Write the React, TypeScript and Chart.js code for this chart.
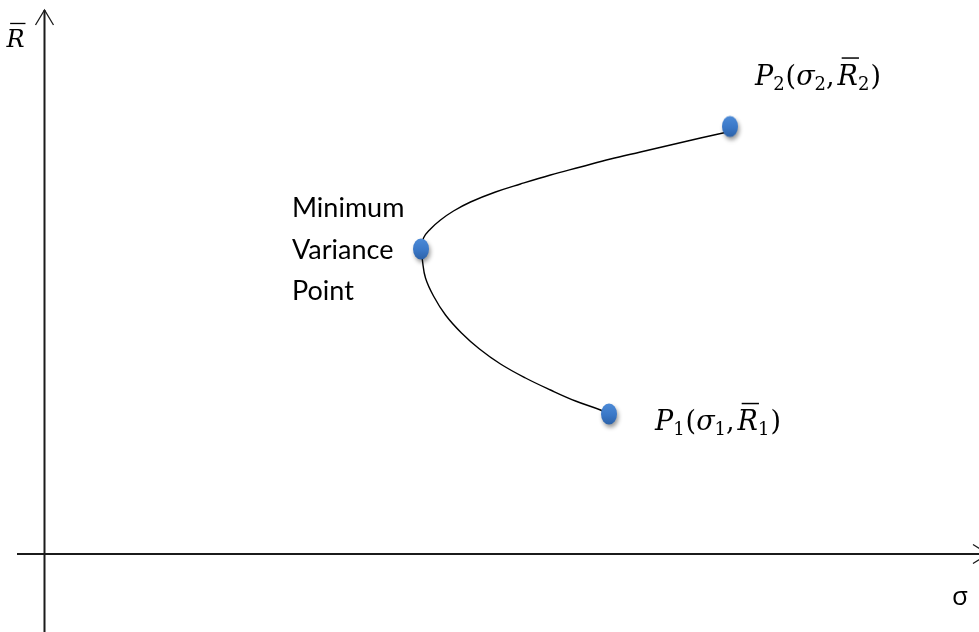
import { useEffect, useRef } from "react";
import { Chart, registerables } from "chart.js";

Chart.register(...registerables);

// Efficient frontier of a two-asset portfolio: risk σ (x) against expected return R̄ (y).
// Upper branch runs from the minimum variance point up to P2.
const upperSigma = [3.77, 3.79, 3.86, 3.96, 4.09, 4.26, 4.51, 4.76, 5.06, 5.36, 5.66, 5.96, 6.26, 6.56, 6.83];
const upperReturn = [3.05, 3.16, 3.25, 3.34, 3.43, 3.52, 3.62, 3.7, 3.79, 3.87, 3.95, 4.02, 4.09, 4.16, 4.22];
// Lower branch runs from P1 up to the minimum variance point.
const lowerSigma = [5.61, 5.56, 5.31, 5.06, 4.81, 4.56, 4.35, 4.17, 4.01, 3.89, 3.81, 3.78];
const lowerReturn = [1.41, 1.44, 1.53, 1.64, 1.76, 1.9, 2.05, 2.21, 2.39, 2.58, 2.76, 2.93];

// Marked portfolios: P1, minimum variance point, P2
const portfolioSigma = [5.645, 3.765, 6.855];
const portfolioReturn = [1.4, 3.05, 4.275];

// Visible window and axis extents (data units)
const X_MIN = -0.445;
const X_MAX = 9.345;
const Y_MIN = -0.78;
const Y_MAX = 5.54;
const X_AXIS_START = -0.275;
const X_AXIS_TIP = 9.435;
const Y_AXIS_TIP = 5.44;

const MATH_FONT = '"DejaVu Serif", "Liberation Serif", serif';
const TEXT_FONT = 'Lato, "Open Sans", sans-serif';

type Seg = { t: string; italic?: boolean; sub?: boolean; bar?: boolean; gap?: number };

const p1Label: Seg[] = [
  { t: "P", italic: true },
  { t: "1", sub: true, gap: 1 },
  { t: "(" },
  { t: "σ", italic: true },
  { t: "1", sub: true },
  { t: ",", gap: 3 },
  { t: "R", italic: true, bar: true },
  { t: "1", sub: true, gap: 1 },
  { t: ")" },
];
const p2Label: Seg[] = [
  { t: "P", italic: true },
  { t: "2", sub: true, gap: 1 },
  { t: "(" },
  { t: "σ", italic: true },
  { t: "2", sub: true },
  { t: ",", gap: 3 },
  { t: "R", italic: true, bar: true },
  { t: "2", sub: true, gap: 1 },
  { t: ")" },
];
const mvpLines = ["Minimum", "Variance", "Point"];

function drawMath(ctx: CanvasRenderingContext2D, segs: Seg[], x: number, y: number, size: number) {
  const subSize = Math.round(size * 0.68);
  let cx = x;
  ctx.fillStyle = "#000";
  ctx.textBaseline = "alphabetic";
  ctx.textAlign = "left";
  for (const s of segs) {
    const fs = s.sub ? subSize : size;
    ctx.font = `${s.italic ? "italic " : ""}${fs}px ${MATH_FONT}`;
    const yy = s.sub ? y + size * 0.19 : y;
    ctx.fillText(s.t, cx, yy);
    const w = ctx.measureText(s.t).width;
    if (s.bar) {
      const top = yy - fs * 0.98;
      ctx.save();
      ctx.strokeStyle = "#000";
      ctx.lineWidth = Math.max(1, fs * 0.055);
      ctx.beginPath();
      ctx.moveTo(cx + w * 0.2, top);
      ctx.lineTo(cx + w * 1.05, top);
      ctx.stroke();
      ctx.restore();
    }
    cx += w + (s.gap ?? 0);
  }
}

function makeMarker(): HTMLCanvasElement {
  const c = document.createElement("canvas");
  c.width = 30;
  c.height = 36;
  const g = c.getContext("2d")!;
  g.shadowColor = "rgba(0,0,0,0.4)";
  g.shadowBlur = 4;
  g.shadowOffsetX = 1.5;
  g.shadowOffsetY = 3;
  const grad = g.createLinearGradient(0, 8, 0, 28);
  grad.addColorStop(0, "#4b89d6");
  grad.addColorStop(0.55, "#3b78c7");
  grad.addColorStop(1, "#2d63aa");
  g.fillStyle = grad;
  g.beginPath();
  g.ellipse(15, 18, 8, 10.5, 0, 0, Math.PI * 2);
  g.fill();
  return c;
}

const axesPlugin = {
  id: "arrowAxes",
  beforeDatasetsDraw(chart: any) {
    const { ctx, chartArea } = chart;
    const xs = chart.scales.x;
    const ys = chart.scales.y;
    const ox = xs.getPixelForValue(0);
    const oy = ys.getPixelForValue(0);
    const yTip = ys.getPixelForValue(Y_AXIS_TIP);
    const xTip = xs.getPixelForValue(X_AXIS_TIP);
    ctx.save();
    ctx.strokeStyle = "#1b1b1b";
    ctx.lineWidth = 2;
    ctx.beginPath();
    ctx.moveTo(ox, chartArea.bottom);
    ctx.lineTo(ox, yTip);
    ctx.moveTo(xs.getPixelForValue(X_AXIS_START), oy);
    ctx.lineTo(xTip, oy);
    ctx.stroke();
    ctx.lineWidth = 1.3;
    ctx.beginPath();
    ctx.moveTo(ox - 9, yTip + 15);
    ctx.lineTo(ox, yTip);
    ctx.lineTo(ox + 9, yTip + 15);
    ctx.moveTo(xTip - 15, oy - 9.5);
    ctx.lineTo(xTip, oy);
    ctx.lineTo(xTip - 15, oy + 9.5);
    ctx.stroke();
    ctx.restore();
  },
};

const labelsPlugin = {
  id: "pointLabels",
  afterDatasetsDraw(chart: any) {
    const { ctx } = chart;
    const xs = chart.scales.x;
    const ys = chart.scales.y;
    const px = (i: number) => xs.getPixelForValue(portfolioSigma[i]);
    const py = (i: number) => ys.getPixelForValue(portfolioReturn[i]);
    const ox = xs.getPixelForValue(0);
    const oy = ys.getPixelForValue(0);
    ctx.save();
    // axis titles
    drawMath(ctx, [{ t: "R", italic: true, bar: true }], ox - 38, ys.getPixelForValue(Y_AXIS_TIP) + 37, 24);
    ctx.font = `26px "Open Sans", sans-serif`;
    ctx.fillStyle = "#000";
    ctx.textAlign = "left";
    ctx.fillText("σ", 952, oy + 51);
    // portfolio labels
    drawMath(ctx, p1Label, px(0) + 46, py(0) + 16, 27);
    drawMath(ctx, p2Label, px(2) + 25, py(2) - 42, 27);
    ctx.font = `27px ${TEXT_FONT}`;
    ctx.fillStyle = "#000";
    ctx.textAlign = "left";
    ctx.textBaseline = "alphabetic";
    mvpLines.forEach((line, k) => {
      ctx.fillText(line, px(1) - 129, py(1) - 32 + k * 41.5);
    });
    ctx.restore();
  },
};

export default function App() {
  const ref = useRef<HTMLCanvasElement>(null);

  useEffect(() => {
    document.body.style.margin = "0";
    const canvas = ref.current!;
    const frontier = [
      ...lowerSigma.map((x, i) => ({ x, y: lowerReturn[i] })),
      ...upperSigma.map((x, i) => ({ x, y: upperReturn[i] })),
    ];
    const portfolios = portfolioSigma.map((x, i) => ({ x, y: portfolioReturn[i] }));
    const chart = new Chart(canvas, {
      type: "scatter",
      data: {
        datasets: [
          {
            label: "Portfolios",
            data: portfolios,
            pointStyle: makeMarker() as any,
            pointRadius: 10,
            order: 0,
          },
          {
            label: "Frontier",
            data: frontier,
            showLine: true,
            borderColor: "#000",
            borderWidth: 1.4,
            tension: 0.4,
            pointRadius: 0,
            fill: false,
            order: 1,
          } as any,
        ],
      },
      options: {
        responsive: false,
        animation: false,
        devicePixelRatio: 1,
        events: [],
        layout: { padding: 0, autoPadding: false },
        scales: {
          x: { type: "linear", min: X_MIN, max: X_MAX, display: false },
          y: { type: "linear", min: Y_MIN, max: Y_MAX, display: false },
        },
        plugins: { legend: { display: false }, tooltip: { enabled: false } },
      },
      plugins: [axesPlugin, labelsPlugin],
    });
    return () => chart.destroy();
  }, []);

  return (
    <div style={{ width: 979, height: 632, background: "#fff" }}>
      <canvas ref={ref} width={979} height={632} style={{ display: "block" }} />
    </div>
  );
}
